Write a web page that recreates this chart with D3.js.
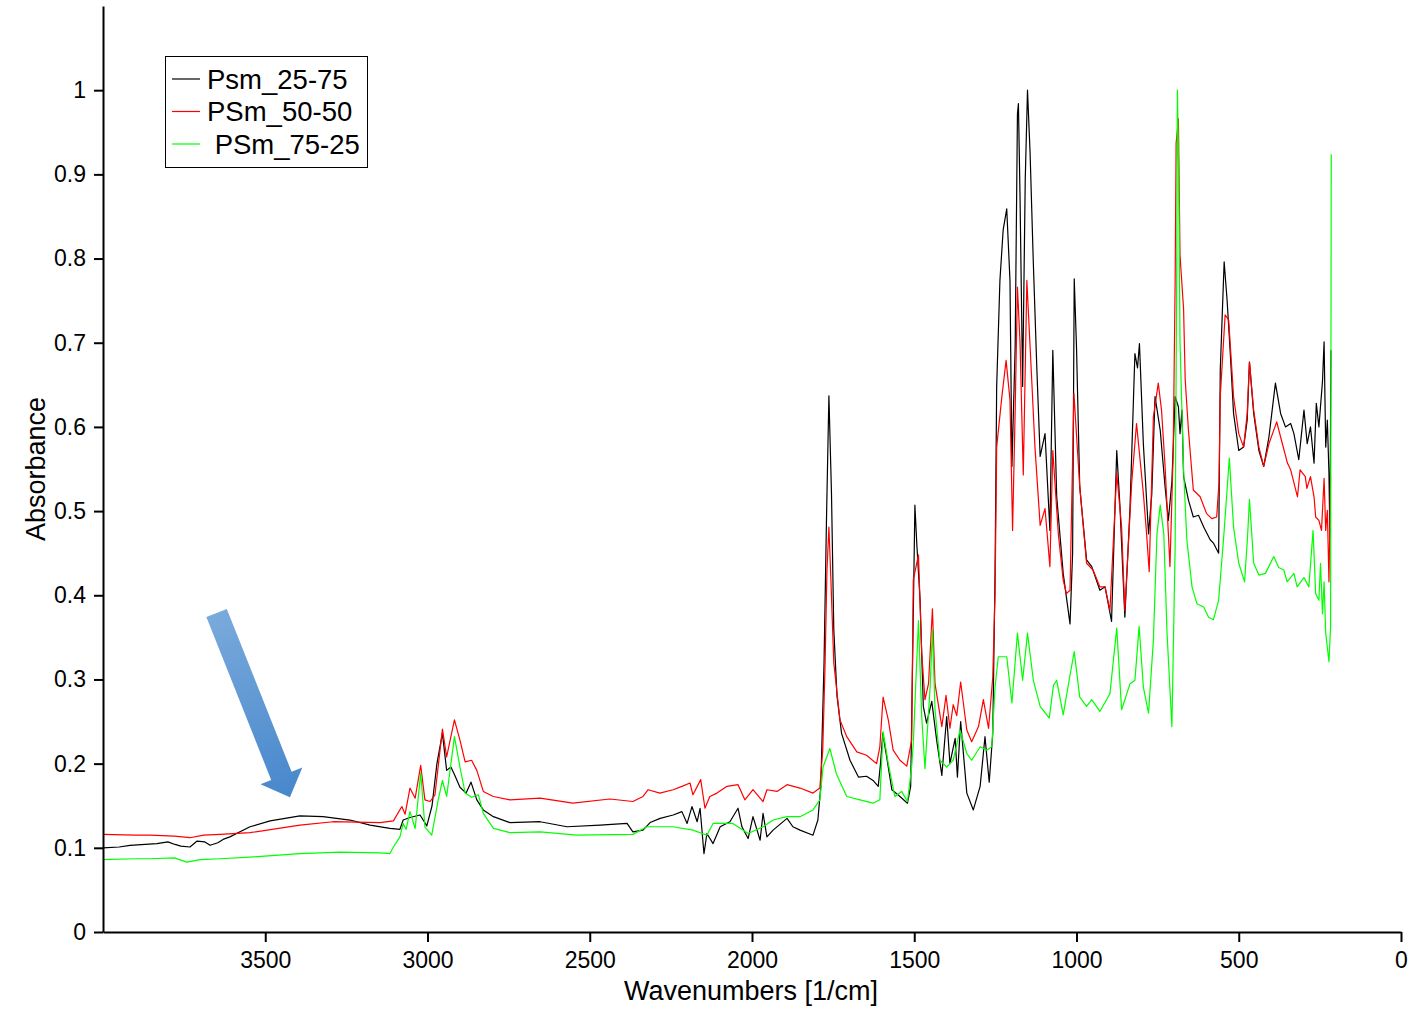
<!DOCTYPE html>
<html>
<head>
<meta charset="utf-8">
<script src="https://cdn.jsdelivr.net/npm/d3@7"></script>
<style>
  body { margin: 0; background: #fff; }
  svg text { font-family: "Liberation Sans", Arial, sans-serif; fill: #000; }
</style>
</head>
<body>
<div id="chart"></div>
<script>
// legend labels + colours
var seriesNames = ['Psm_25-75', 'PSm_50-50', ' PSm_75-25'];
var seriesColors = ['#000000', '#ff0000', '#00ff00'];

var xTicks = [3500, 3000, 2500, 2000, 1500, 1000, 500, 0];
var yTicks = [0, 0.1, 0.2, 0.3, 0.4, 0.5, 0.6, 0.7, 0.8, 0.9, 1];

// [wavenumber, absorbance]
var psm2575 = [
  [4000,0.100],[3950,0.101],[3917,0.103],[3870,0.104],[3834,0.105],[3800,0.107],[3778,0.104],[3760,0.102],
  [3732,0.101],[3710,0.108],[3686,0.107],[3670,0.103],[3646,0.106],[3630,0.110],[3609,0.113],
  [3547,0.125],[3485,0.132],[3393,0.138],[3322,0.137],[3239,0.133],[3177,0.127],[3116,0.123],[3085,0.122],
  [3075,0.133],[3054,0.136],[3023,0.139],[3002,0.126],[2986,0.150],[2971,0.200],[2954,0.236],[2941,0.192],
  [2928,0.196],[2918,0.188],[2900,0.172],[2881,0.165],[2866,0.178],[2848,0.157],[2828,0.145],[2797,0.137],
  [2746,0.130],[2653,0.131],[2570,0.125],[2468,0.127],[2385,0.129],[2367,0.119],[2336,0.121],[2314,0.130],
  [2283,0.135],[2243,0.139],[2216,0.143],[2200,0.129],[2185,0.149],[2169,0.131],[2160,0.147],[2148,0.093],
  [2139,0.117],[2120,0.105],[2098,0.125],[2068,0.131],[2043,0.147],[2031,0.125],[2012,0.111],[1997,0.137],
  [1975,0.109],[1966,0.141],[1954,0.113],[1935,0.121],[1892,0.135],[1874,0.125],[1852,0.121],[1812,0.115],
  [1797,0.133],[1788,0.173],[1778,0.320],[1770,0.500],[1763,0.637],[1755,0.520],[1748,0.360],[1738,0.280],
  [1724,0.236],[1698,0.204],[1672,0.184],[1647,0.185],[1627,0.180],[1611,0.173],[1604,0.200],[1597,0.236],
  [1585,0.208],[1569,0.169],[1544,0.161],[1521,0.153],[1511,0.173],[1504,0.350],[1498,0.507],[1492,0.460],
  [1482,0.394],[1472,0.268],[1462,0.248],[1446,0.274],[1431,0.228],[1415,0.186],[1400,0.256],[1390,0.200],
  [1374,0.230],[1367,0.184],[1357,0.250],[1338,0.165],[1318,0.145],[1297,0.173],[1282,0.232],[1269,0.178],
  [1258,0.236],[1251,0.426],[1246,0.648],[1236,0.774],[1226,0.834],[1215,0.859],[1205,0.774],[1199,0.553],
  [1189,0.695],[1182,0.972],[1179,0.984],[1174,0.873],[1166,0.648],[1158,0.893],[1151,1.000],[1143,0.925],
  [1133,0.794],[1122,0.667],[1112,0.565],[1097,0.592],[1082,0.477],[1073,0.691],[1061,0.517],[1041,0.426],
  [1020,0.366],[1012,0.450],[1007,0.776],[1000,0.695],[990,0.529],[969,0.442],[953,0.434],[928,0.406],
  [912,0.410],[892,0.369],[876,0.572],[866,0.505],[851,0.374],[835,0.505],[820,0.687],[812,0.670],
  [806,0.699],[794,0.580],[778,0.473],[768,0.520],[758,0.636],[742,0.596],[727,0.529],[717,0.489],
  [706,0.535],[696,0.636],[686,0.624],[681,0.592],[675,0.620],[670,0.541],[655,0.513],[640,0.493],
  [624,0.495],[608,0.481],[588,0.466],[578,0.462],[562,0.450],[557,0.667],[545,0.796],[536,0.751],
  [526,0.687],[516,0.616],[500,0.572],[485,0.576],[474,0.608],[467,0.677],[454,0.616],[438,0.572],
  [423,0.553],[407,0.588],[387,0.652],[371,0.616],[356,0.600],[340,0.604],[330,0.592],[315,0.561],
  [299,0.620],[289,0.580],[279,0.600],[268,0.557],[261,0.628],[253,0.600],[242,0.654],[237,0.701],
  [232,0.576],[227,0.608],[222,0.545],[219,0.469],[216,0.691]
];

var psm5050 = [
  [4000,0.116],[3900,0.115],[3855,0.115],[3780,0.114],[3732,0.112],[3690,0.115],[3639,0.116],[3547,0.118],
  [3393,0.127],[3291,0.131],[3146,0.130],
  [3105,0.132],[3079,0.149],[3069,0.140],[3054,0.171],[3038,0.159],[3021,0.198],[3008,0.157],[2992,0.155],
  [2977,0.163],[2954,0.241],[2941,0.208],[2917,0.252],[2900,0.228],[2884,0.202],[2864,0.204],[2848,0.192],
  [2828,0.167],[2797,0.161],[2746,0.157],[2653,0.159],[2552,0.153],[2438,0.158],[2367,0.155],[2336,0.161],
  [2320,0.169],[2284,0.165],[2243,0.169],[2216,0.173],[2191,0.177],[2182,0.163],[2158,0.181],[2145,0.147],
  [2130,0.161],[2108,0.165],[2077,0.173],[2043,0.175],[2022,0.157],[1997,0.169],[1966,0.155],[1954,0.169],
  [1923,0.167],[1892,0.175],[1852,0.171],[1812,0.165],[1791,0.171],[1782,0.216],[1775,0.315],[1769,0.430],
  [1763,0.481],[1757,0.420],[1748,0.320],[1729,0.252],[1708,0.232],[1677,0.214],[1647,0.210],[1616,0.200],
  [1606,0.220],[1596,0.279],[1580,0.252],[1565,0.216],[1544,0.204],[1523,0.197],[1508,0.228],[1503,0.418],
  [1487,0.448],[1477,0.331],[1467,0.276],[1456,0.295],[1444,0.384],[1436,0.295],[1415,0.244],[1402,0.281],
  [1390,0.242],[1380,0.270],[1369,0.257],[1357,0.297],[1338,0.240],[1323,0.226],[1302,0.244],[1287,0.276],
  [1271,0.242],[1258,0.303],[1251,0.402],[1246,0.576],[1230,0.636],[1217,0.679],[1205,0.632],[1197,0.477],
  [1189,0.620],[1182,0.766],[1174,0.700],[1164,0.543],[1153,0.774],[1138,0.656],[1128,0.576],[1112,0.483],
  [1097,0.503],[1082,0.434],[1073,0.572],[1056,0.473],[1041,0.418],[1031,0.402],[1020,0.406],[1008,0.640],
  [990,0.529],[969,0.438],[949,0.430],[928,0.410],[912,0.410],[897,0.382],[876,0.545],[861,0.481],
  [851,0.382],[830,0.533],[815,0.604],[794,0.521],[784,0.473],[776,0.428],[763,0.612],[748,0.652],
  [738,0.620],[727,0.553],[712,0.434],[702,0.569],[696,0.774],[693,0.937],[686,0.966],[681,0.804],
  [670,0.740],[665,0.656],[655,0.596],[640,0.525],[619,0.517],[599,0.497],[583,0.491],[568,0.493],
  [561,0.533],[557,0.636],[542,0.733],[531,0.727],[516,0.636],[500,0.592],[485,0.576],[474,0.616],
  [467,0.677],[454,0.620],[438,0.576],[423,0.553],[407,0.580],[383,0.606],[371,0.588],[350,0.557],
  [340,0.549],[319,0.517],[311,0.549],[295,0.541],[290,0.527],[279,0.541],[268,0.517],[263,0.493],
  [253,0.489],[245,0.477],[237,0.539],[232,0.477],[227,0.501],[222,0.416],[217,0.541]
];

var psm7525 = [
  [4000,0.086],[3900,0.087],[3855,0.087],[3780,0.088],[3742,0.083],[3700,0.086],[3639,0.087],[3547,0.089],
  [3393,0.093],[3270,0.095],[3146,0.094],
  [3116,0.093],[3105,0.101],[3085,0.113],[3075,0.129],[3066,0.122],[3054,0.143],[3038,0.123],[3021,0.189],
  [3008,0.125],[2987,0.115],[2967,0.157],[2954,0.180],[2941,0.161],[2917,0.232],[2900,0.196],[2884,0.165],
  [2864,0.160],[2843,0.163],[2828,0.141],[2797,0.123],[2746,0.118],[2653,0.119],[2539,0.115],[2367,0.116],
  [2324,0.125],[2243,0.125],[2182,0.121],[2139,0.115],[2120,0.129],[2059,0.129],[2012,0.117],[1966,0.125],
  [1935,0.133],[1892,0.137],[1852,0.137],[1812,0.145],[1791,0.157],[1781,0.196],[1760,0.218],[1740,0.188],
  [1708,0.161],[1667,0.157],[1627,0.153],[1606,0.157],[1596,0.238],[1580,0.200],[1560,0.161],[1539,0.167],
  [1521,0.155],[1508,0.196],[1503,0.224],[1487,0.370],[1477,0.256],[1467,0.194],[1451,0.291],[1444,0.359],
  [1436,0.264],[1421,0.204],[1400,0.196],[1380,0.204],[1359,0.240],[1338,0.212],[1323,0.204],[1297,0.220],
  [1277,0.216],[1261,0.220],[1251,0.291],[1241,0.327],[1215,0.327],[1199,0.272],[1182,0.355],[1166,0.299],
  [1151,0.355],[1133,0.299],[1112,0.268],[1084,0.254],[1071,0.293],[1061,0.299],[1041,0.258],[1020,0.305],
  [1007,0.333],[990,0.279],[969,0.268],[953,0.276],[928,0.262],[897,0.283],[876,0.361],[861,0.264],
  [835,0.295],[820,0.299],[807,0.363],[794,0.291],[778,0.260],[763,0.347],[752,0.473],[742,0.507],
  [731,0.473],[721,0.355],[706,0.244],[696,0.458],[691,0.800],[689,1.000],[685,0.900],[681,0.700],
  [670,0.549],[660,0.466],[644,0.410],[629,0.390],[608,0.386],[593,0.374],[578,0.371],[562,0.394],
  [547,0.466],[529,0.563],[516,0.481],[500,0.438],[482,0.416],[473,0.469],[467,0.514],[454,0.438],
  [438,0.424],[418,0.426],[392,0.446],[377,0.433],[361,0.430],[351,0.416],[330,0.426],[320,0.410],
  [299,0.421],[284,0.410],[271,0.477],[263,0.402],[253,0.394],[248,0.438],[242,0.378],[237,0.416],
  [232,0.355],[222,0.321],[217,0.363],[215,0.924]
];

var allSeries = [psm2575, psm5050, psm7525];

// arrow annotation: tail and tip in data units
var arrowTail = [3650, 0.379];
var arrowTip = [3424, 0.160];

var width = 1410, height = 1009;

var svg = d3.select('#chart').append('svg')
  .attr('width', width)
  .attr('height', height);

var x = d3.scaleLinear().domain([4000, 0]).range([103, 1401]);
var y = d3.scaleLinear().domain([0, 1.1]).range([932, 6]);

var line = d3.line()
  .x(function (d) { return x(d[0]); })
  .y(function (d) { return y(d[1]); });

svg.append('g').attr('class', 'spectra')
  .selectAll('path')
  .data(allSeries)
  .enter().append('path')
    .attr('d', line)
    .attr('fill', 'none')
    .attr('stroke', function (d, i) { return seriesColors[i]; })
    .attr('stroke-width', 1.2)
    .attr('stroke-linejoin', 'round');

// axes
var xAxis = d3.axisBottom(x)
  .tickValues(xTicks)
  .tickFormat(d3.format('d'))
  .tickSize(10)
  .tickSizeOuter(0)
  .tickPadding(10);

var yAxis = d3.axisLeft(y)
  .tickValues(yTicks)
  .tickFormat(function (d) { return String(+d.toFixed(1)); })
  .tickSize(9)
  .tickSizeOuter(0)
  .tickPadding(8);

var gx = svg.append('g')
  .attr('transform', 'translate(0,932)')
  .call(xAxis);

var gy = svg.append('g')
  .attr('transform', 'translate(103,0)')
  .call(yAxis);

[gx, gy].forEach(function (g) {
  g.attr('font-family', null).attr('font-size', null);
  g.selectAll('path, line').attr('stroke', '#000').attr('stroke-width', 2);
  g.selectAll('text').style('font-size', '23px');
});

svg.append('text')
  .attr('x', 751)
  .attr('y', 1000)
  .attr('text-anchor', 'middle')
  .style('font-size', '27px')
  .text('Wavenumbers [1/cm]');

svg.append('text')
  .attr('transform', 'translate(45,469) rotate(-90)')
  .attr('text-anchor', 'middle')
  .style('font-size', '27px')
  .text('Absorbance');

// legend
var legend = svg.append('g').attr('class', 'legend');
legend.append('rect')
  .attr('x', 165.5).attr('y', 56.5)
  .attr('width', 202).attr('height', 111)
  .attr('fill', '#fff')
  .attr('stroke', '#000')
  .attr('stroke-width', 1);

var rows = legend.selectAll('g.row')
  .data(seriesNames)
  .enter().append('g')
    .attr('class', 'row')
    .attr('transform', function (d, i) { return 'translate(0,' + (79 + i * 32.5) + ')'; });

rows.append('line')
  .attr('x1', 172).attr('x2', 200)
  .attr('y1', 0).attr('y2', 0)
  .attr('stroke', function (d, i) { return seriesColors[i]; })
  .attr('stroke-width', 1.2);

rows.append('text')
  .attr('x', 207)
  .attr('y', 9.5)
  .style('font-size', '27.5px')
  .style('white-space', 'pre')
  .text(function (d) { return d; });

// blue arrow pointing at the broad band
var defs = svg.append('defs');
var grad = defs.append('linearGradient')
  .attr('id', 'arrowGrad')
  .attr('gradientUnits', 'userSpaceOnUse')
  .attr('x1', x(arrowTail[0])).attr('y1', y(arrowTail[1]))
  .attr('x2', x(arrowTip[0])).attr('y2', y(arrowTip[1]));
grad.append('stop').attr('offset', '0%').attr('stop-color', '#79aadb');
grad.append('stop').attr('offset', '100%').attr('stop-color', '#4787cc');

var tx = x(arrowTail[0]), ty = y(arrowTail[1]);
var hx = x(arrowTip[0]), hy = y(arrowTip[1]);
var len = Math.hypot(hx - tx, hy - ty);
var ux = (hx - tx) / len, uy = (hy - ty) / len;
var nx = -uy, ny = ux;
var shaftW = 11, headW = 22.5, headL = 23;
var bx = hx - ux * headL, by = hy - uy * headL;
var arrowPts = [
  [tx - nx * shaftW, ty - ny * shaftW],
  [bx - nx * shaftW, by - ny * shaftW],
  [bx - nx * headW, by - ny * headW],
  [hx, hy],
  [bx + nx * headW, by + ny * headW],
  [bx + nx * shaftW, by + ny * shaftW],
  [tx + nx * shaftW, ty + ny * shaftW]
];

svg.append('polygon')
  .attr('points', arrowPts.map(function (p) { return p.join(','); }).join(' '))
  .attr('fill', 'url(#arrowGrad)');
</script>
</body>
</html>
